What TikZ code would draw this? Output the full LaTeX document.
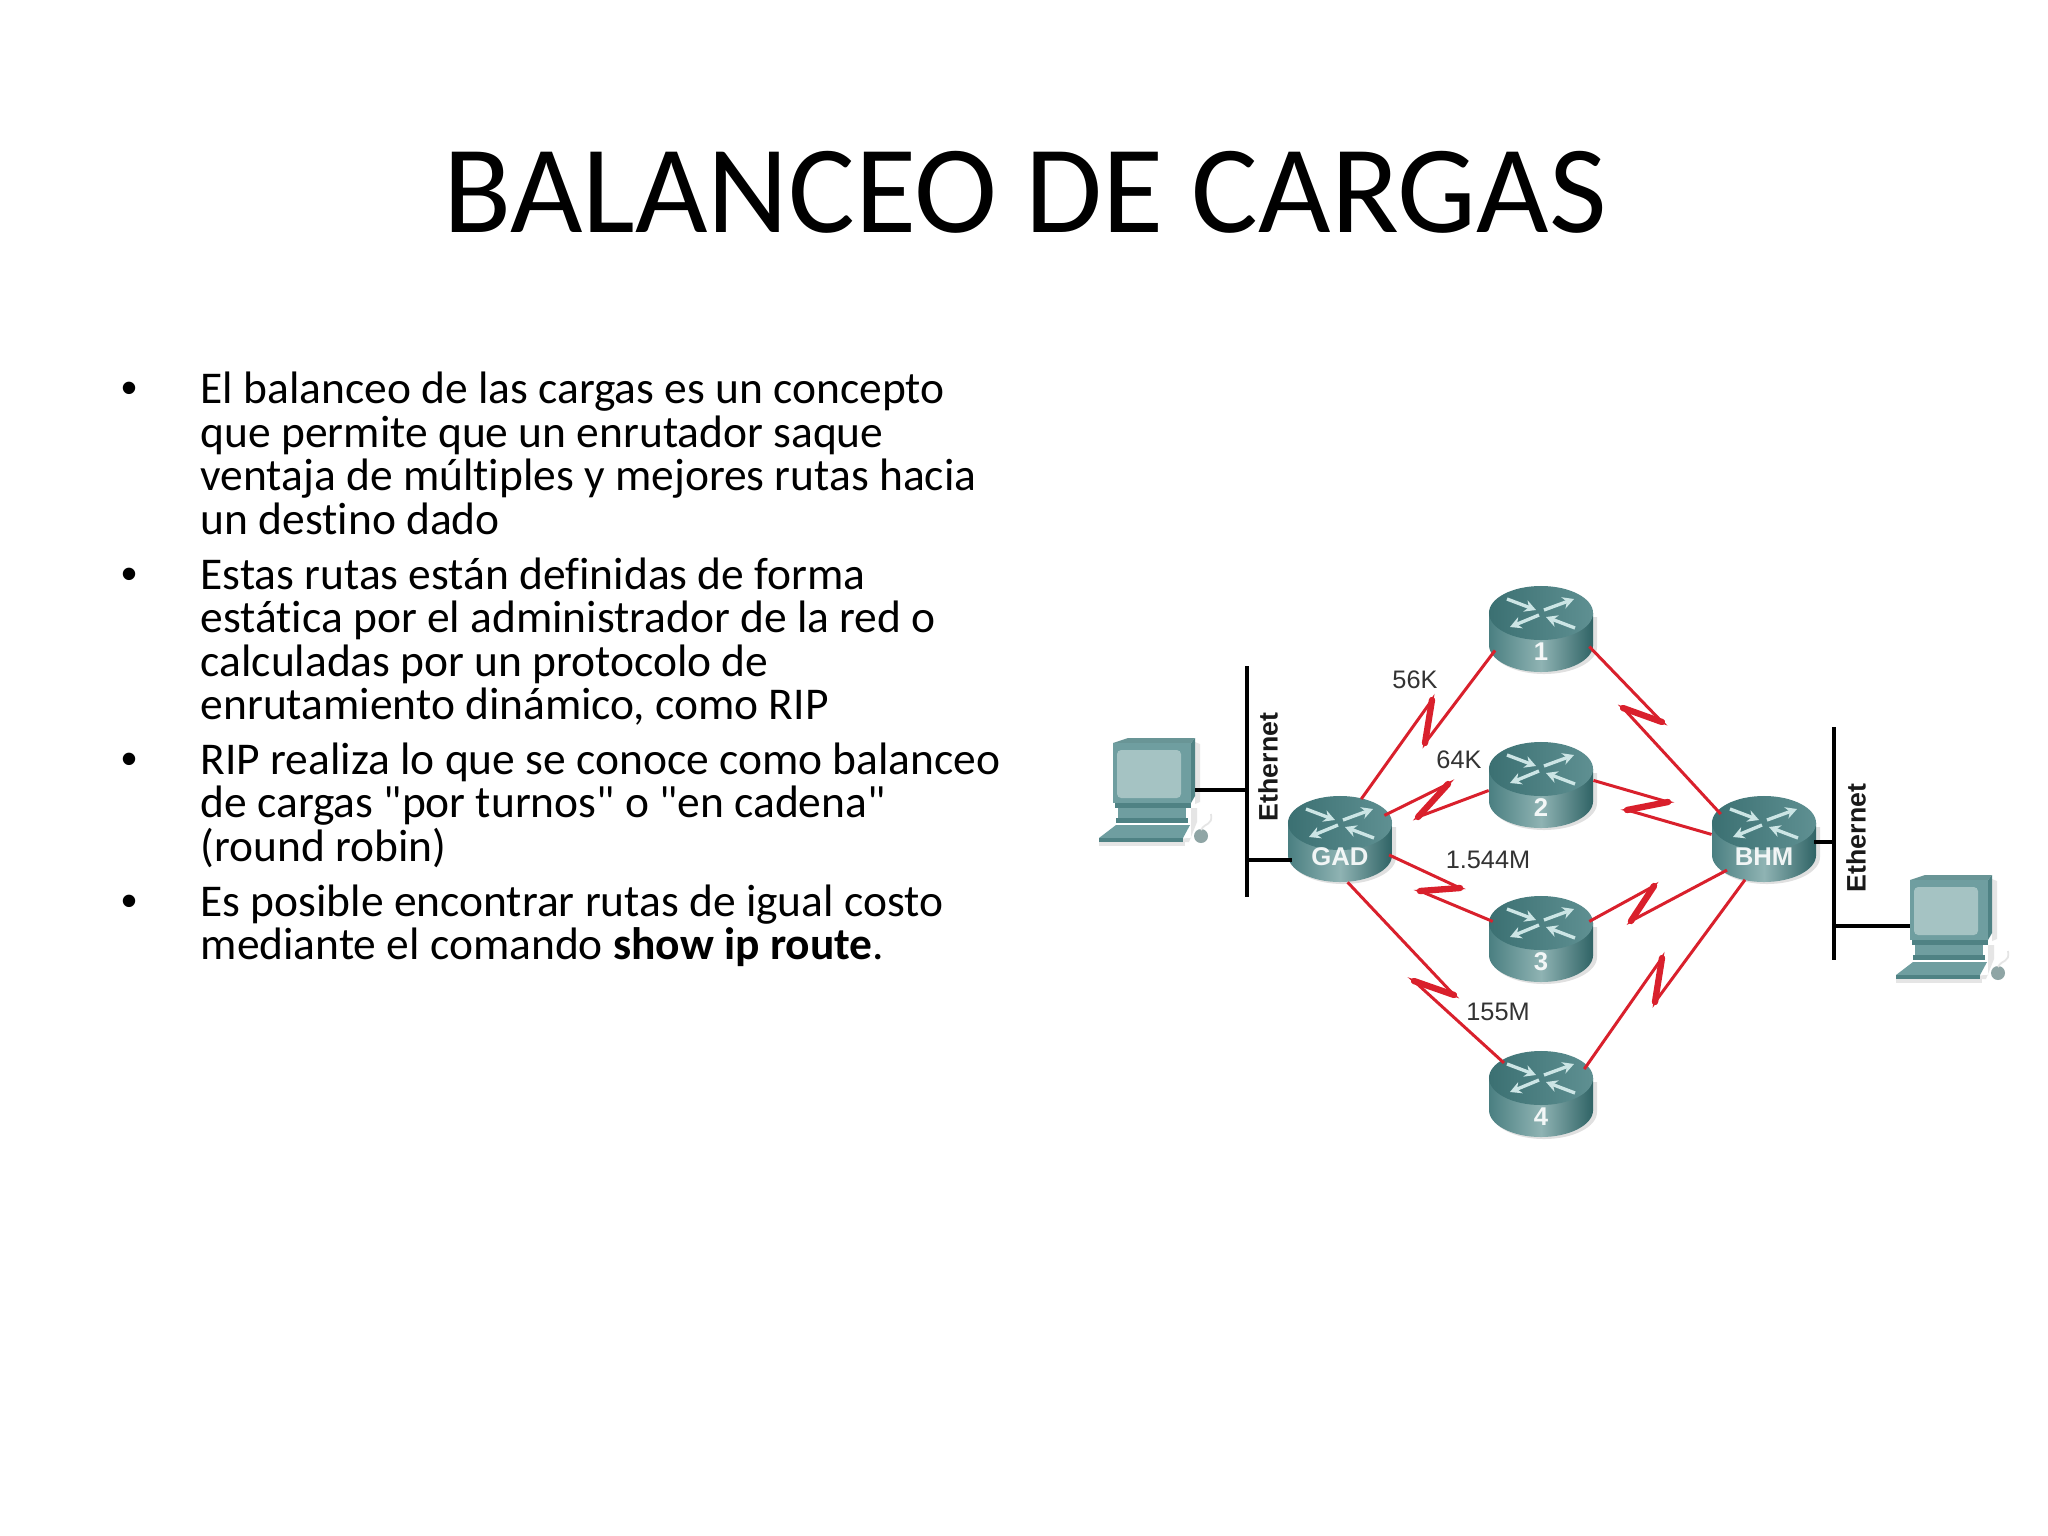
\documentclass[tikz,border=0pt]{standalone}
\usepackage{fontspec}
\setmainfont{Carlito}
\newfontfamily\bodyf[Ligatures=NoCommon]{Carlito}
\newfontfamily\arialf{Liberation Sans}
\usetikzlibrary{arrows.meta,shapes.geometric}
\definecolor{tealdark}{HTML}{2F6365}
\definecolor{tealmid}{HTML}{4A7F81}
\definecolor{teallight}{HTML}{8FB3B3}
\definecolor{toplight}{HTML}{5F9092}
\definecolor{topdark}{HTML}{3B7072}
\definecolor{pcfront}{HTML}{6F9EA0}
\definecolor{pcscreen}{HTML}{A5C3C3}
\definecolor{pcside}{HTML}{4F8284}
\definecolor{serialred}{HTML}{D9202C}
\tikzset{
  x=0.01cm,y=-0.01cm,
  titletxt/.style={font=\fontsize{35.6}{36}\selectfont,anchor=base,inner sep=0},
  bodytxt/.style={font=\bodyf\fontsize{12.93}{13}\selectfont,anchor=base west,inner sep=0},
  bullettxt/.style={font=\arialf\fontsize{13}{13}\selectfont,anchor=base,inner sep=0},
  bluetxt/.style={font=\arialf\fontsize{7.2}{8}\selectfont,text=black!80,inner sep=0},
  ethtxt/.style={font=\arialf\bfseries\fontsize{7.6}{8}\selectfont,rotate=90,inner sep=0,text=black!90},
  rtrlabel/.style={font=\arialf\bfseries\fontsize{7.3}{8}\selectfont,text=white,inner sep=0,opacity=.9},
  rtrbox/.style={ellipse,minimum width=1.04cm,minimum height=.86cm,inner sep=0},
  bus/.style={line width=1.15pt,black},
  serial/.style={line width=.85pt,serialred,line join=miter},
  bolt/.style={line width=1.8pt,serialred,line cap=round},
  rarrow/.style={line width=.95pt,color=white!80!teal,-{Stealth[length=3.2pt,width=3.4pt]}},
}
% router: name, x, y of the top ellipse centre, label, label y offset
\newcommand{\rtr}[5]{%
  \node[rtrbox] (#1) at (#2,#3+16) {};
  \begin{scope}[shift={(#2,#3)}]
    \fill[black!30,opacity=.4] (-50,4) -- (56,4) -- (56,34)
      arc[start angle=0,end angle=-180,x radius=.53cm,y radius=.27cm] -- cycle;
    \shade[left color=tealmid,right color=tealdark,middle color=teallight]
      (-52,0) -- (-52,32) arc[start angle=180,end angle=360,x radius=.52cm,y radius=.27cm] -- (52,0) -- cycle;
    \shade[left color=topdark,right color=toplight]
      (0,0) ellipse[x radius=.52cm,y radius=.27cm];
    \draw[rarrow] (-34,-14) -- (-5,-3);
    \draw[rarrow] (3,-3) -- (33,-14);
    \draw[rarrow] (-2,2) -- (-31,14);
    \draw[rarrow] (34,15) -- (5,4);
    \node[rtrlabel] (#1t) at (0,#5) {#4};
  \end{scope}}
% computer: name, x, y of the monitor's top left corner
\newcommand{\cpu}[3]{%
  \begin{scope}[shift={(#2,#3)}]
    \fill[black!20,opacity=.5] (82,4) -- (87,6) -- (87,64) -- (82,66) -- cycle;
    \fill[black!20,opacity=.5] (-12,104) -- (76,104) -- (84,84) -- (84,70) -- (78,70) -- (78,100) -- cycle;
    \fill[black!20,opacity=.5] (-14,104) rectangle (72,108);
    \fill[pcside] (78,5) -- (82,0) -- (82,58) -- (78,65) -- cycle;
    \fill[pcside!85!white] (0,5) -- (15,0) -- (82,0) -- (78,5) -- cycle;
    \fill[pcfront] (0,5) rectangle (78,65);
    \fill[pcscreen,rounded corners=1.2pt] (4,12) rectangle (68,60);
    \fill[pcside] (2,65) rectangle (78,70);
    \fill[pcfront] (5,70) rectangle (73,80);
    \fill[pcside] (3,80) rectangle (75,85);
    \fill[pcfront] (3,87) -- (77,87) -- (70,100) -- (-14,100) -- cycle;
    \fill[pcside] (-14,100) rectangle (70,104);
    \fill[gray!75!teal,opacity=.7] (88,98) ellipse[x radius=.07cm,y radius=.07cm];
    \draw[black!10,line width=.5pt] (88,92) .. controls (92,84) and (100,88) .. (98,76);
    \node[inner sep=0,minimum width=.82cm,minimum height=.65cm] (#1) at (41,33) {};
  \end{scope}}
\begin{document}
\begin{tikzpicture}
\useasboundingbox (0,0) rectangle (2048,1536);
\fill[white] (0,0) rectangle (2048,1536);

\node[titletxt] (ttl) at (1025,232) {BALANCEO DE CARGAS};

\node[bullettxt] (b1) at (130,403) {•};
\node[bodytxt] (l1) at (200,403) {El balanceo de las cargas es un concepto};
\node[bodytxt] (l2) at (200,447) {que permite que un enrutador saque};
\node[bodytxt] (l3) at (200,490) {ventaja de múltiples y mejores rutas hacia};
\node[bodytxt] (l4) at (200,534) {un destino dado};
\node[bullettxt] (b2) at (130,589) {•};
\node[bodytxt] (l5) at (200,589) {Estas rutas están definidas de forma};
\node[bodytxt] (l6) at (200,632) {estática por el administrador de la red o};
\node[bodytxt] (l7) at (200,676) {calculadas por un protocolo de};
\node[bodytxt] (l8) at (200,719) {enrutamiento dinámico, como RIP};
\node[bullettxt] (b3) at (130,774) {•};
\node[bodytxt] (l9) at (200,774) {RIP realiza lo que se conoce como balanceo};
\node[bodytxt] (l10) at (200,817) {de cargas "por turnos" o "en cadena"};
\node[bodytxt] (l11) at (200,861) {(round robin)};
\node[bullettxt] (b4) at (130,916) {•};
\node[bodytxt] (l12) at (200,916) {Es posible encontrar rutas de igual costo};
\node[bodytxt] (l13) at (200,959) {mediante el comando \textbf{show ip route}.};

% computers
\cpu{pcl}{1113}{738}
\cpu{pcr}{1910}{875}

% routers
\rtr{gad}{1340}{823}{GAD}{34}
\rtr{bhm}{1764}{823}{BHM}{34}
\rtr{ra}{1541}{613}{1}{39}
\rtr{rb}{1541}{769}{2}{39}
\rtr{rc}{1541}{923}{3}{39}
\rtr{rd}{1541}{1078}{4}{39}

% Ethernet buses
\coordinate (busla) at (1247,666);
\coordinate (buslb) at (1247,897);
\coordinate (busra) at (1834,727);
\coordinate (busrb) at (1834,960);
\coordinate (gadp) at (1292,860);
\coordinate (bhmp) at (1814,842);
\coordinate (pclp) at (1195,790);
\coordinate (pcrp) at (1910,926);
\draw[bus] (busla) -- (buslb);
\draw[bus] (busra) -- (busrb);
\draw[bus] (pclp) -- (pclp -| busla);
\draw[bus] (gadp -| busla) -- (gadp);
\draw[bus] (bhmp) -- (bhmp -| busra);
\draw[bus] (pcrp -| busra) -- (pcrp);
\node[ethtxt] (ethl) at (1268,767) {Ethernet};
\node[ethtxt] (ethr) at (1856,838) {Ethernet};

% serial links
\coordinate (a1) at (1432,700); \coordinate (a2) at (1425,743);
\coordinate (b1p) at (1448,784); \coordinate (b2p) at (1418,817);
\coordinate (c1) at (1460,888); \coordinate (c2) at (1420,891);
\coordinate (d1) at (1454,995); \coordinate (d2) at (1414,981);
\coordinate (e1) at (1662,722); \coordinate (e2) at (1623,708);
\coordinate (f1) at (1668,802); \coordinate (f2) at (1627,810);
\coordinate (g1) at (1654,886); \coordinate (g2) at (1631,921);
\coordinate (h1) at (1662,958); \coordinate (h2) at (1655,1002);
\draw[serial] (gad.62) -- (a1) -- (a2) -- (ra.205);
\draw[serial] (gad.28) -- (b1p) -- (b2p) -- (rb.186);
\draw[serial] (gad.-18) -- (c1) -- (c2) -- (rc.160);
\draw[serial] (gad.-80) -- (d1) -- (d2) -- (rd.140);
\draw[serial] (ra.-20) -- (e1) -- (e2) -- (bhm.150);
\draw[serial] (rb.5) -- (f1) -- (f2) -- (bhm.175);
\draw[serial] (rc.20) -- (g1) -- (g2) -- (bhm.-140);
\draw[serial] (rd.30) -- (h1) -- (h2) -- (bhm.-115);
\draw[bolt] (a1) -- (a2);
\draw[bolt] (b1p) -- (b2p);
\draw[bolt] (c1) -- (c2);
\draw[bolt] (d1) -- (d2);
\draw[bolt] (e1) -- (e2);
\draw[bolt] (f1) -- (f2);
\draw[bolt] (g1) -- (g2);
\draw[bolt] (h1) -- (h2);

\node[bluetxt] (k56) at (1415,680) {56K};
\node[bluetxt] (k64) at (1459,760) {64K};
\node[bluetxt] (m15) at (1488,860) {1.544M};
\node[bluetxt] (m155) at (1498,1012) {155M};
\end{tikzpicture}
\end{document}
